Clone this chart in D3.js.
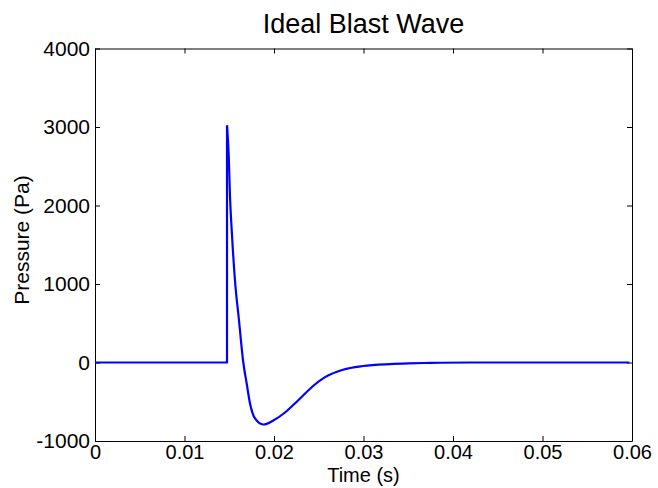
<!DOCTYPE html>
<html>
<head>
<meta charset="utf-8">
<script src="https://cdn.jsdelivr.net/npm/d3@7"></script>
<style>
  body { margin: 0; background: #fff; }
  text { font-family: "Liberation Sans", Arial, sans-serif; fill: #000; }
</style>
</head>
<body>
<script>
// values
const timeS = [0, 0.01475, 0.01475, 0.01494, 0.01508, 0.01531, 0.01564, 0.01609, 0.01657,
  0.01695, 0.01732, 0.01788, 0.01880, 0.01992, 0.02123, 0.02268, 0.02421, 0.02570,
  0.02771, 0.02994, 0.03296, 0.0350, 0.03743, 0.0420, 0.0597];
const pressurePa = [0, 0, 3020, 2637, 2127, 1618, 1045, 535, 0,
  -268, -522, -713, -790, -739, -637, -484, -315, -187,
  -92, -45, -20, -11, -5, 0, 0];
const xTicks = [0, 0.01, 0.02, 0.03, 0.04, 0.05, 0.06];
const xTickLabels = ["0", "0.01", "0.02", "0.03", "0.04", "0.05", "0.06"];
const yTicks = [-1000, 0, 1000, 2000, 3000, 4000];
const yTickLabels = ["-1000", "0", "1000", "2000", "3000", "4000"];

const width = 658, height = 488;
const margin = {left: 95, right: 26, top: 48.5, bottom: 47};

const svg = d3.select("body").append("svg")
    .attr("width", width)
    .attr("height", height);

const x = d3.scaleLinear().domain([0, 0.06]).range([margin.left, width - margin.right]);
const y = d3.scaleLinear().domain([-1000, 4000]).range([height - margin.bottom, margin.top]);

// axes, ticks pointing inward like matlab
const fmtX = d => xTickLabels[xTicks.indexOf(d)];
const fmtY = d => yTickLabels[yTicks.indexOf(d)];

const axBottom = svg.append("g")
    .attr("transform", `translate(0,${y(-1000)})`)
    .call(d3.axisBottom(x).tickValues(xTicks).tickFormat(fmtX).tickSizeInner(-5).tickSizeOuter(0).tickPadding(2));
const axLeft = svg.append("g")
    .attr("transform", `translate(${x(0)},0)`)
    .call(d3.axisLeft(y).tickValues(yTicks).tickFormat(fmtY).tickSizeInner(-5).tickSizeOuter(0).tickPadding(5));
const axTop = svg.append("g")
    .attr("transform", `translate(0,${y(4000)})`)
    .call(d3.axisTop(x).tickValues(xTicks).tickFormat("").tickSizeInner(-5).tickSizeOuter(0));
const axRight = svg.append("g")
    .attr("transform", `translate(${x(0.06)},0)`)
    .call(d3.axisRight(y).tickValues(yTicks).tickFormat("").tickSizeInner(-5).tickSizeOuter(0));

svg.selectAll(".domain").attr("stroke", "#000").attr("stroke-width", 1);
svg.selectAll(".tick line").attr("stroke", "#000");
svg.selectAll(".tick text").style("font-size", "20px").attr("fill", "#000");
axLeft.selectAll(".tick text").style("font-size", "21px");
axBottom.selectAll(".tick text").attr("dy", "0.8em");

// the blast wave curve: straight step up, then a smooth decay from the peak
const idx = d3.range(timeS.length);
const stepLine = d3.line()
    .x(i => x(timeS[i]))
    .y(i => y(pressurePa[i]));
const decayLine = d3.line()
    .curve(d3.curveMonotoneX)
    .x(i => x(timeS[i]))
    .y(i => y(pressurePa[i]));

const curveStyle = sel => sel
    .attr("fill", "none")
    .attr("stroke", "#0000ff")
    .attr("stroke-width", 2.2)
    .attr("stroke-linejoin", "round");

svg.append("path")
    .datum(idx.slice(0, 3))
    .attr("d", stepLine)
    .call(curveStyle);
svg.append("path")
    .datum(idx.slice(2))
    .attr("d", decayLine)
    .call(curveStyle);

// labels
const cx = (x(0) + x(0.06)) / 2;
svg.append("text")
    .attr("x", cx).attr("y", 33)
    .attr("text-anchor", "middle")
    .style("font-size", "27px")
    .text("Ideal Blast Wave");

svg.append("text")
    .attr("x", cx).attr("y", 482)
    .attr("text-anchor", "middle")
    .style("font-size", "20px")
    .text("Time (s)");

svg.append("text")
    .attr("transform", `translate(29,240) rotate(-90)`)
    .attr("text-anchor", "middle")
    .style("font-size", "21px")
    .text("Pressure (Pa)");
</script>
</body>
</html>
